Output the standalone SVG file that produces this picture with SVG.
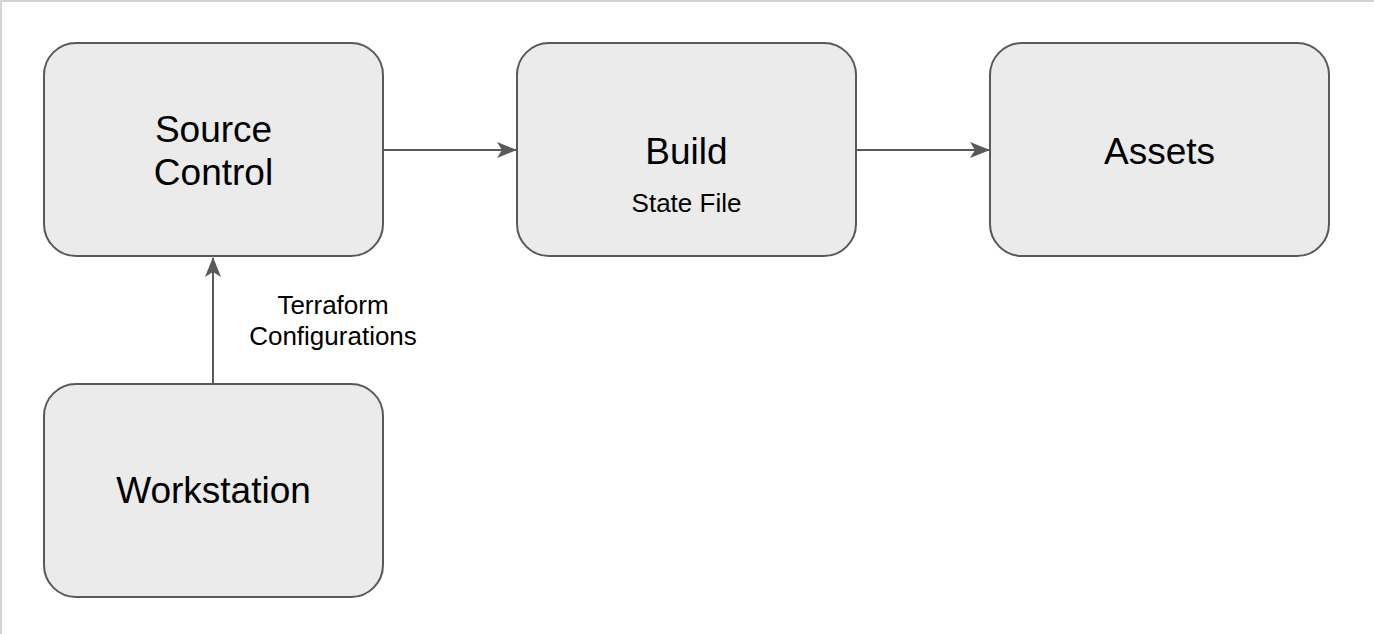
<svg xmlns="http://www.w3.org/2000/svg" width="1374" height="634" viewBox="0 0 1374 634">
<style>
.node rect{fill:#ebebeb;stroke:#595959;stroke-width:2}
.big{font-family:"Liberation Sans",Arial,sans-serif;font-size:37px;fill:#000;text-anchor:middle}
.small{font-family:"Liberation Sans",Arial,sans-serif;font-size:26px;fill:#000;text-anchor:middle}
.edge{stroke:#595959;stroke-width:2;fill:none}
</style>
<defs>
<marker id="arr" viewBox="0 0 20 16" refX="19" refY="8" markerWidth="20" markerHeight="16" markerUnits="userSpaceOnUse" orient="auto">
<path d="M0,0 L20,8 L0,16 L5,8 Z" fill="#595959"/>
</marker>
</defs>
<rect x="0" y="0" width="1374" height="634" fill="#fff"/>
<line x1="0" y1="1" x2="1374" y2="1" stroke="#d3d3d3" stroke-width="2"/>
<line x1="1" y1="0" x2="1" y2="634" stroke="#d3d3d3" stroke-width="2"/>
<g id="connectors">
<line class="edge" x1="384" y1="150" x2="516" y2="150" marker-end="url(#arr)"/>
<line class="edge" x1="857" y1="150" x2="989" y2="150" marker-end="url(#arr)"/>
<line class="edge" x1="213" y1="383" x2="213" y2="258" marker-end="url(#arr)"/>
<text class="small" x="333" y="313.5">Terraform</text>
<text class="small" x="333" y="344.5">Configurations</text>
</g>
<g id="source-control" class="node">
<rect x="44" y="43" width="339" height="213" rx="32" ry="32"/>
<text class="big" x="213.5" y="142">Source</text>
<text class="big" x="213.5" y="185">Control</text>
</g>
<g id="build" class="node">
<rect x="517" y="43" width="339" height="213" rx="32" ry="32"/>
<text class="big" x="686.5" y="164">Build</text>
<text class="small" x="686.5" y="211.5">State File</text>
</g>
<g id="assets" class="node">
<rect x="990" y="43" width="339" height="213" rx="32" ry="32"/>
<text class="big" x="1159.5" y="164">Assets</text>
</g>
<g id="workstation" class="node">
<rect x="44" y="384" width="339" height="213" rx="32" ry="32"/>
<text class="big" x="213.5" y="503">Workstation</text>
</g>
</svg>
